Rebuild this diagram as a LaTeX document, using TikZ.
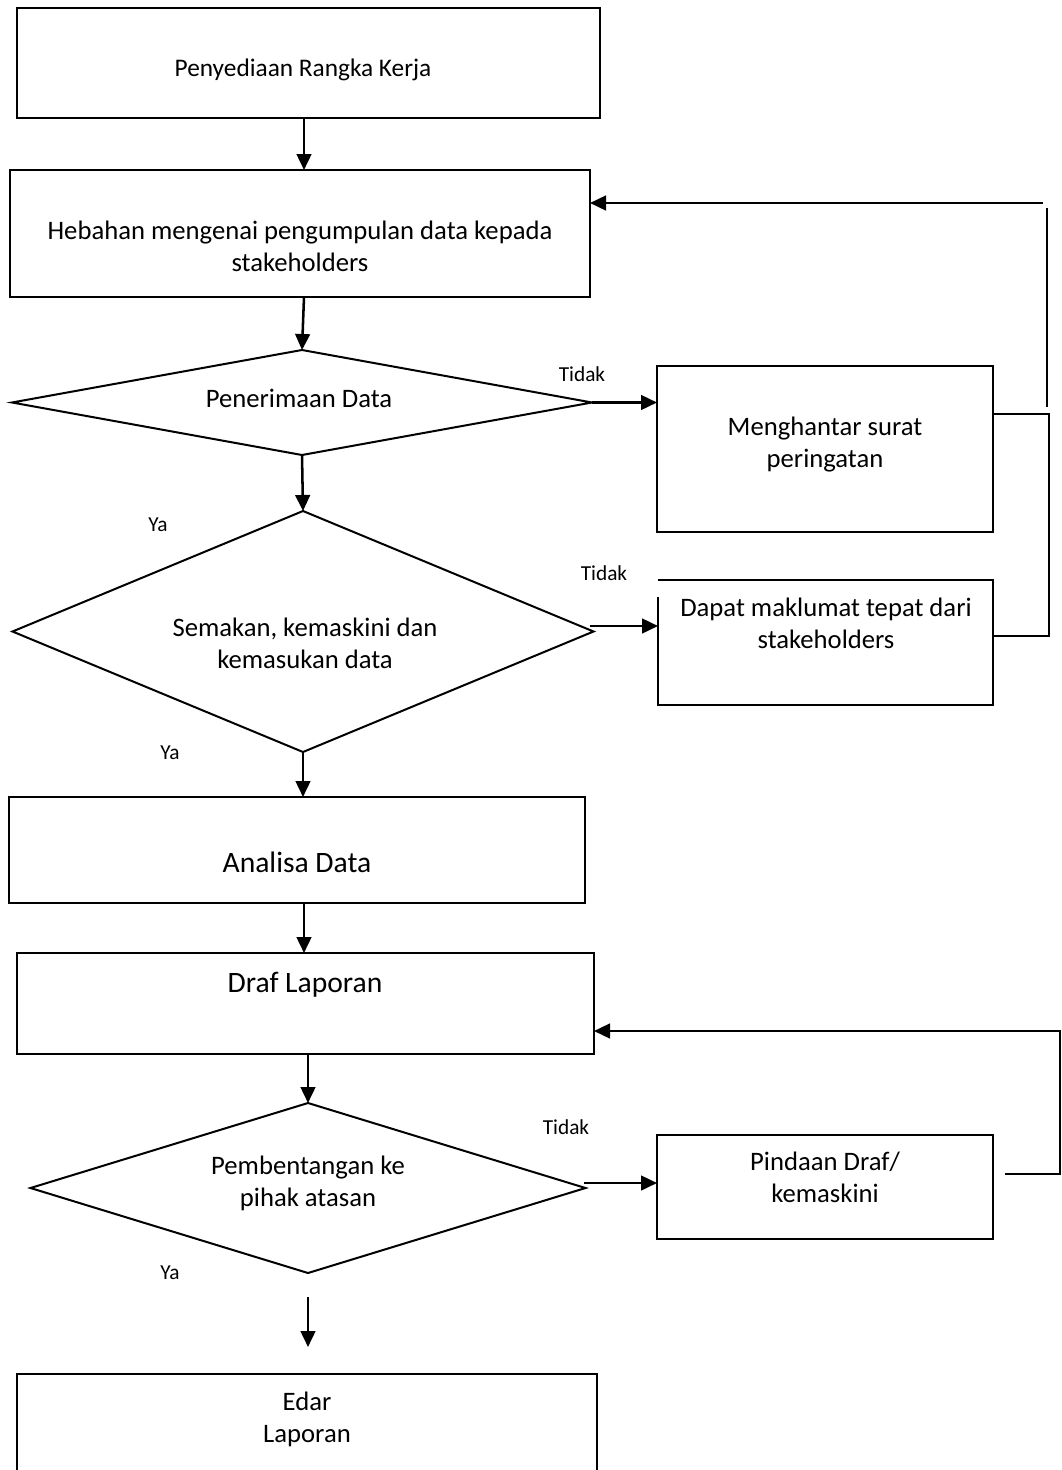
\documentclass[tikz,border=0pt]{standalone}
\usepackage{fontspec}
\setmainfont{Carlito}
\usetikzlibrary{arrows.meta,shapes.geometric,fit}
\begin{document}
\begin{tikzpicture}[x=0.75pt,y=-0.75pt,
  box/.style={draw, line width=1.5pt, inner sep=0pt, outer sep=0pt},
  dia/.style={draw, diamond, line width=1.5pt, inner sep=0pt, outer sep=0pt},
  txt/.style={font=\fontsize{20}{24}\selectfont, align=center, anchor=base, inner sep=0pt},
  big/.style={font=\fontsize{22.2}{26}\selectfont, anchor=base, inner sep=0pt},
  lbl/.style={font=\fontsize{16}{19}\selectfont, inner sep=0pt},
  arr/.style={line width=1.9pt, -{Triangle[length=12pt,width=11pt]}},
  ln/.style={line width=1.5pt}]
\useasboundingbox (0,0) rectangle (1061,1470);

% boxes and decisions
\node[box, fit={(17,8) (600,118)}] (b1) {};
\node[box, fit={(10,170) (590,297)}] (b2) {};
\node[dia, minimum width=580*0.75pt, minimum height=105*0.75pt] (d1) at (302,402.5) {};
\node[box, fit={(657,366) (993,532)}] (b3) {};
\node[dia, minimum width=581*0.75pt, minimum height=241*0.75pt] (d2) at (303,631.5) {};
\node[inner sep=0pt, outer sep=0pt, fit={(658,580) (993,705)}] (b4) {};
\draw[ln] (b4.north west) -- (b4.north east) -- (b4.south east) -- (b4.south west) -- ([yshift=-12.75pt]b4.north west);
\node[box, fit={(9,797) (585,903)}] (b5) {};
\node[box, fit={(17,953) (594,1054)}] (b6) {};
\node[dia, minimum width=555*0.75pt, minimum height=170*0.75pt] (d3) at (308,1188) {};
\node[box, fit={(657,1135) (993,1239)}] (b7) {};
\node[box, fit={(17,1374) (597,1495)}] (b8) {};

% texts (anchor base = baseline of the last line)
\node[txt, font=\fontsize{19}{24}\selectfont] (t1) at (303,77) {Penyediaan Rangka Kerja};
\node[txt] (t2) at (300,271) {Hebahan mengenai pengumpulan data kepada\\stakeholders};
\node[txt] (t3) at (299,407) {Penerimaan Data};
\node[txt] (t4) at (825,467) {Menghantar surat\\peringatan};
\node[txt] (t5) at (305,668) {Semakan, kemaskini dan\\kemasukan data};
\node[txt] (t6) at (826,648) {Dapat maklumat tepat dari\\stakeholders};
\node[big] (t7) at (297,872) {Analisa Data};
\node[big] (t8) at (305,992) {Draf Laporan};
\node[txt] (t9) at (308,1206) {Pembentangan ke\\pihak atasan};
\node[txt] (t10) at (825,1202) {Pindaan Draf/\\kemaskini};
\node[txt] (t11) at (307,1442) {Edar\\Laporan};

% labels
\node[lbl] (l1) at (582,374) {Tidak};
\node[lbl] (l2) at (604,573) {Tidak};
\node[lbl] (l3) at (566,1127) {Tidak};
\node[lbl] (y1) at (158,525) {Ya};
\node[lbl] (y2) at (170,753) {Ya};
\node[lbl] (y3) at (170,1273) {Ya};

% helper coordinates
\coordinate (c1) at (304,0);
\coordinate (a7s) at (308,1297);
\coordinate (a7e) at (308,1347);
\coordinate (h2) at (590,626);
\coordinate (h3) at (584,1183);
\coordinate (f1a) at (1043,203);
\coordinate (f1b) at (1047,208);
\coordinate (f1c) at (1047,407);
\coordinate (f1d) at (1049,414);
\coordinate (f1e) at (1049,636);
\coordinate (f2a) at (1005,1174);
\coordinate (f2b) at (1060,1174);
\coordinate (f2c) at (1060,1031);

% main flow
\draw[arr] (b1.south -| c1) -- (b2.north -| c1);
\draw[arr] (b2.south -| c1) -- (d1.north);
\draw[arr] (d1.south) -- (d2.north);
\draw[arr] (d2.south) -- (b5.north -| d2.south);
\draw[arr] (b5.south -| c1) -- (b6.north -| c1);
\draw[arr] (b6.south -| d3.north) -- (d3.north);
\draw[arr] (a7s) -- (a7e);

% side branches
\draw[arr] (d1.east) -- (b3.west |- d1.east);
\draw[arr] (h2) -- (b4.west |- h2);
\draw[arr] (h3) -- (b7.west |- h3);

% feedback loops
\draw[arr] (f1a) -- (b2.east |- f1a);
\draw[ln] (f1c) -- (f1b);
\draw[ln] (b3.east |- f1d) -- (f1d) -- (f1e) -- (b4.east |- f1e);
\draw[arr] (f2a) -- (f2b) -- (f2c) -- (b6.east |- f2c);
\end{tikzpicture}
\end{document}
